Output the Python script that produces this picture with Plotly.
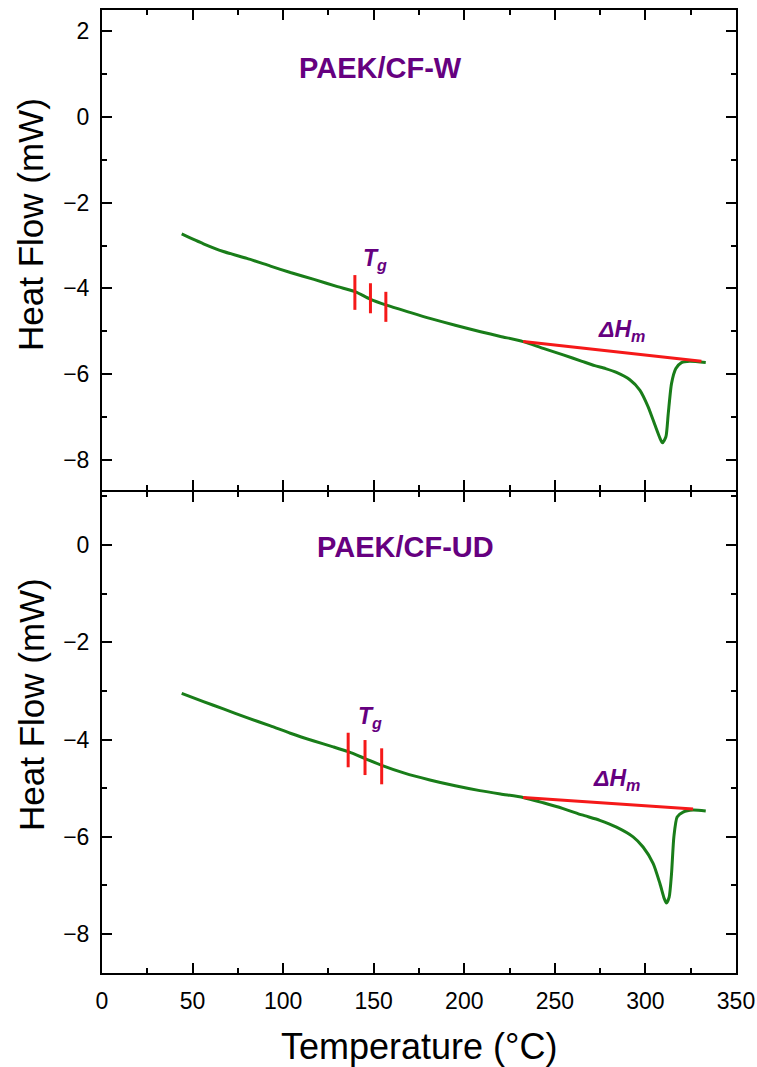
import plotly.graph_objects as go

# ---- data ----
T_w = [44, 56, 67, 80, 93, 104, 117, 130, 140, 148, 157, 170, 181, 195, 209, 220,
       232.5, 243.6, 254.6, 265, 272, 278, 284, 291.4, 296.9, 301.5, 305.2, 308,
       309.4, 311.3, 312.6, 314.4, 316.8, 319.9, 324.5, 333.3]
HF_w = [-2.73, -2.96, -3.14, -3.30, -3.48, -3.63, -3.79, -3.96, -4.08, -4.25, -4.39,
        -4.56, -4.70, -4.86, -5.01, -5.12, -5.24, -5.40, -5.55, -5.70, -5.80, -5.87,
        -5.96, -6.13, -6.37, -6.76, -7.18, -7.49, -7.60, -7.46, -6.92, -6.22, -5.87,
        -5.73, -5.70, -5.73]

T_ud = [44, 56, 67, 80, 93, 104, 117, 127.6, 135.9, 145.2, 154.4, 167, 181, 195,
        208.6, 220, 232.5, 243.6, 254.6, 265, 274.8, 284, 293.2, 298.7, 304.3, 308,
        310.4, 311.6, 313.1, 314.4, 315.7, 317.5, 320.8, 326.3, 333.3]
HF_ud = [-3.05, -3.22, -3.37, -3.55, -3.72, -3.87, -4.03, -4.15, -4.25, -4.39, -4.53,
         -4.69, -4.83, -4.95, -5.05, -5.12, -5.19, -5.30, -5.42, -5.55, -5.66, -5.80,
         -6.00, -6.21, -6.55, -6.96, -7.27, -7.36, -7.24, -6.76, -6.00, -5.59, -5.49,
         -5.45, -5.47]

# baselines for melting enthalpy
base_w_T = [232.5, 330.9]
base_w_HF = [-5.24, -5.70]
base_ud_T = [232.5, 326.3]
base_ud_HF = [-5.19, -5.43]

# Tg marker segments: (temperature, top, bottom)
tg_w = [(139.6, -3.69, -4.50), (148.2, -3.88, -4.58), (156.7, -4.08, -4.78)]
tg_ud = [(135.9, -3.86, -4.57), (145.2, -4.01, -4.73), (154.4, -4.18, -4.92)]

x_ticks = [0, 50, 100, 150, 200, 250, 300, 350]
y_ticks = [-8, -6, -4, -2, 0, 2]

GREEN = "rgb(25,125,25)"
RED = "rgb(245,25,25)"
PURPLE = "rgb(102,0,128)"
FONT = "Liberation Sans, Arial, sans-serif"

fig = go.Figure()

def add_panel(T, HF, bT, bHF, tg, xa, ya):
    fig.add_trace(go.Scatter(x=T, y=HF, mode="lines", xaxis=xa, yaxis=ya,
                             line=dict(color=GREEN, width=3, shape="spline", smoothing=0.6),
                             showlegend=False))
    fig.add_trace(go.Scatter(x=bT, y=bHF, mode="lines", xaxis=xa, yaxis=ya,
                             line=dict(color=RED, width=3), showlegend=False))
    for t, y0, y1 in tg:
        fig.add_trace(go.Scatter(x=[t, t], y=[y0, y1], mode="lines", xaxis=xa, yaxis=ya,
                                 line=dict(color=RED, width=3), showlegend=False))

add_panel(T_w, HF_w, base_w_T, base_w_HF, tg_w, "x2", "y2")
add_panel(T_ud, HF_ud, base_ud_T, base_ud_HF, tg_ud, "x", "y")

split = 482 / 963
px = 1 / 963

xcommon = dict(range=[0, 350], tickvals=x_ticks, showline=True, linecolor="black",
               linewidth=2, mirror="ticks", ticks="inside", ticklen=10, tickwidth=2,
               tickcolor="black", showgrid=False, zeroline=False, automargin=False,
               minor=dict(ticks="inside", ticklen=5, tickwidth=2, tickcolor="black",
                          dtick=25, tick0=0, showgrid=False),
               tickfont=dict(family=FONT, size=23, color="black"))
ycommon = dict(tickvals=y_ticks, showline=True, linecolor="black", linewidth=2,
               mirror="ticks", ticks="inside", ticklen=10, tickwidth=2, tickcolor="black",
               showgrid=False, zeroline=False, automargin=False,
               minor=dict(ticks="inside", ticklen=5, tickwidth=2, tickcolor="black",
                          dtick=1, tick0=0, showgrid=False),
               tickfont=dict(family=FONT, size=23, color="black"),
               ticklabelstandoff=6)

fig.update_layout(
    width=757, height=1067,
    margin=dict(l=102, r=21, t=10, b=94, autoexpand=False),
    plot_bgcolor="white", paper_bgcolor="white",
    xaxis=dict(**xcommon, anchor="y", domain=[0, 1], ticklabelstandoff=6),
    xaxis2=dict(**xcommon, anchor="y2", domain=[0, 1], matches="x", showticklabels=False),
    yaxis=dict(**ycommon, anchor="x", domain=[0, split - px], range=[-8.8, 1.09]),
    yaxis2=dict(**ycommon, anchor="x2", domain=[split + px, 1], range=[-8.70, 2.49]),
)

# axis titles
TFONT = dict(family=FONT, size=35, color="black")
fig.add_annotation(text="Heat Flow (mW)", x=-0.112, y=0.7778, xref="paper", yref="paper",
                   textangle=-90, showarrow=False, xanchor="center", yanchor="middle", font=TFONT)
fig.add_annotation(text="Heat Flow (mW)", x=-0.112, y=0.2793, xref="paper", yref="paper",
                   textangle=-90, showarrow=False, xanchor="center", yanchor="middle", font=TFONT)
fig.add_annotation(text="Temperature (°C)", x=0.5, y=-0.0768, xref="paper", yref="paper",
                   showarrow=False, xanchor="center", yanchor="middle",
                   font=dict(family=FONT, size=36, color="black"))

def ann(text, x, y, xa, ya, size):
    fig.add_annotation(text=text, x=x, y=y, xref=xa, yref=ya, showarrow=False,
                       xanchor="center", yanchor="middle",
                       font=dict(family=FONT, size=size, color=PURPLE))

ann("<b>PAEK/CF-W</b>", 154, 1.14, "x2", "y2", 29)
ann("<b>PAEK/CF-UD</b>", 167.5, -0.05, "x", "y", 29)
ann("<b><i>T</i></b><sub><b><i>g</i></b></sub>", 150.7, -3.33, "x2", "y2", 23)
ann("<b><i>T</i></b><sub><b><i>g</i></b></sub>", 148, -3.54, "x", "y", 23)
ann("<b><i>ΔH</i></b><sub><b><i>m</i></b></sub>", 286.7, -4.97, "x2", "y2", 23)
ann("<b><i>ΔH</i></b><sub><b><i>m</i></b></sub>", 284, -4.83, "x", "y", 23)

fig.write_html("out.html")
